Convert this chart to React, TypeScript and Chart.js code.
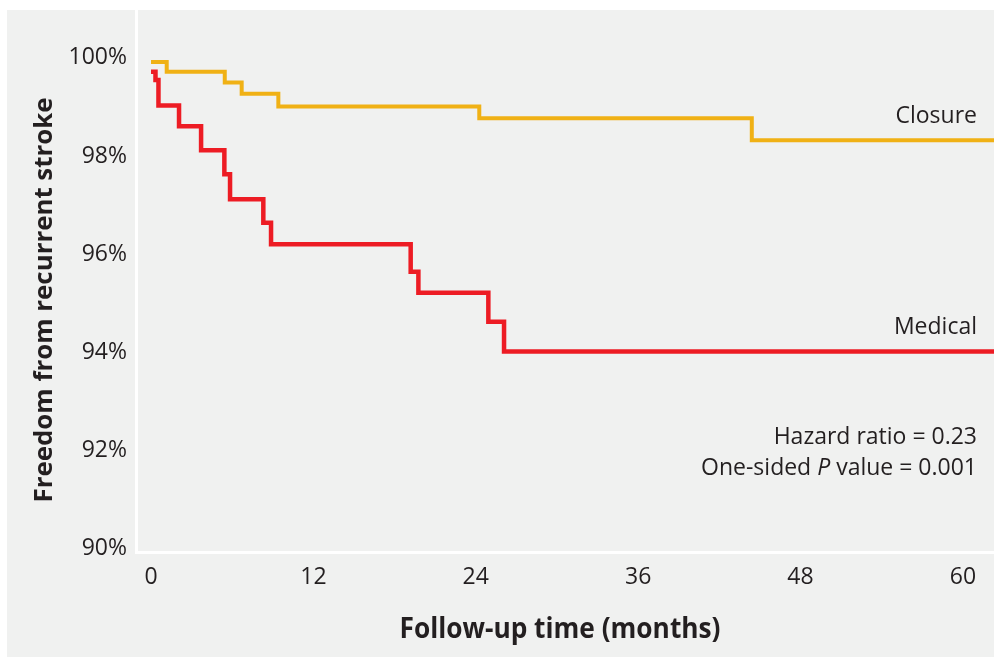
import React, { useEffect, useRef } from "react";
import { Chart, registerables } from "chart.js";
Chart.register(...registerables);

// ---- data ----
const closureTimes = [0, 1.16, 5.45, 6.7, 9.41, 24.26, 44.4, 62.3];
const closureSurvival = [100, 99.8, 99.58, 99.35, 99.09, 98.85, 98.4, 98.4];
const medicalTimes = [0, 0.33, 0.55, 2.07, 3.7, 5.42, 5.84, 8.3, 8.87, 19.19, 19.76, 24.93, 26.09, 62.3];
const medicalSurvival = [99.8, 99.63, 99.11, 98.69, 98.2, 97.71, 97.2, 96.72, 96.28, 95.72, 95.29, 94.7, 94.09, 94.09];
const xTickValues = [0, 12, 24, 36, 48, 60];
const yTickValues = [90, 92, 94, 96, 98, 100];
const seriesNames = ["Medical", "Closure"];
const xTitle = "Follow-up time (months)";
const yTitle = "Freedom from recurrent stroke";
const hazardText = "Hazard ratio = 0.23";
const pValueParts = ["One-sided ", "P", " value = 0.001"];
const statsAnchorValue = 92;

const FONT = "'Open Sans', 'Noto Sans', sans-serif";
const TEXT = "#231f20";
const RED = "#ED1C24";
const ORANGE = "#F0B115";
const BG = "#f0f1f0";
const FS = 23;

const toPoints = (xs: number[], ys: number[]) => xs.map((x, i) => ({ x, y: ys[i] }));

const overlay = {
  id: "overlay",
  afterDraw(chart: any) {
    const { ctx, chartArea, scales } = chart;
    const ys = scales.y;
    ctx.save();
    ctx.fillStyle = TEXT;
    ctx.textBaseline = "middle";

    // series labels
    ctx.font = `${FS}px ${FONT}`;
    ctx.textAlign = "right";
    const rx = chartArea.right - 17;
    ctx.fillText(seriesNames[1], rx, ys.getPixelForValue(closureSurvival[closureSurvival.length - 1]) - 24);
    ctx.fillText(seriesNames[0], rx, ys.getPixelForValue(medicalSurvival[medicalSurvival.length - 1]) - 24);

    // stats
    const base = ys.getPixelForValue(statsAnchorValue);
    ctx.fillText(hazardText, rx, base - 17);
    ctx.textAlign = "left";
    const normal = `${FS}px ${FONT}`;
    const italic = `italic ${FS}px ${FONT}`;
    ctx.font = normal;
    const w0 = ctx.measureText(pValueParts[0]).width;
    const w2 = ctx.measureText(pValueParts[2]).width;
    ctx.font = italic;
    const w1 = ctx.measureText(pValueParts[1]).width;
    let px = rx - (w0 + w1 + w2);
    const py = base + 14;
    ctx.font = normal;
    ctx.fillText(pValueParts[0], px, py);
    px += w0;
    ctx.font = italic;
    ctx.fillText(pValueParts[1], px, py);
    px += w1;
    ctx.font = normal;
    ctx.fillText(pValueParts[2], px, py);

    // axis titles
    ctx.textAlign = "center";
    ctx.font = `bold 28px ${FONT}`;
    const xw = ctx.measureText(xTitle).width;
    ctx.save();
    ctx.translate((chartArea.left + chartArea.right) / 2 - 5, chartArea.bottom + 78);
    ctx.scale(321 / xw, 1);
    ctx.fillText(xTitle, 0, 0);
    ctx.restore();

    ctx.font = `bold 25px ${FONT}`;
    const yw = ctx.measureText(yTitle).width;
    ctx.save();
    ctx.translate(38, (chartArea.top + chartArea.bottom) / 2 + 19);
    ctx.rotate(-Math.PI / 2);
    ctx.scale(405 / yw, 1);
    ctx.fillText(yTitle, 0, 0);
    ctx.restore();

    ctx.restore();
  },
};

export default function App() {
  const ref = useRef<HTMLCanvasElement>(null);
  useEffect(() => {
    if (!ref.current) return;
    const chart = new Chart(ref.current, {
      type: "line",
      data: {
        datasets: [
          {
            label: seriesNames[0],
            data: toPoints(medicalTimes, medicalSurvival),
            borderColor: RED,
            borderWidth: 4.5,
            stepped: "before",
            pointRadius: 0,
            fill: false,
            borderJoinStyle: "miter",
          },
          {
            label: seriesNames[1],
            data: toPoints(closureTimes, closureSurvival),
            borderColor: ORANGE,
            borderWidth: 4,
            stepped: "before",
            pointRadius: 0,
            fill: false,
            borderJoinStyle: "miter",
          },
        ],
      },
      options: {
        animation: false,
        responsive: false,
        layout: { padding: 0 },
        plugins: { legend: { display: false }, tooltip: { enabled: false } },
        scales: {
          x: {
            type: "linear",
            min: -1.11,
            max: 62.3,
            afterBuildTicks: (s: any) => {
              s.ticks = xTickValues.map((v) => ({ value: v }));
            },
            afterFit: (s: any) => {
              s.height = 105;
              s.paddingLeft = 0;
              s.paddingRight = 0;
              s.paddingTop = 0;
              s.paddingBottom = 0;
            },
            grid: { display: false, drawTicks: false },
            border: { display: true, color: "#ffffff", width: 3 },
            ticks: {
              padding: 12,
              color: TEXT,
              font: { family: FONT, size: FS },
              maxRotation: 0,
              autoSkip: false,
              callback: (v: any) => String(v),
            },
          },
          y: {
            type: "linear",
            min: 90,
            max: 101.06,
            afterBuildTicks: (s: any) => {
              s.ticks = yTickValues.map((v) => ({ value: v }));
            },
            afterFit: (s: any) => {
              s.width = 129;
              s.paddingLeft = 0;
              s.paddingRight = 0;
              s.paddingTop = 0;
              s.paddingBottom = 0;
            },
            grid: { display: false, drawTicks: false },
            border: { display: true, color: "#ffffff", width: 3 },
            ticks: {
              padding: 9,
              labelOffset: -4,
              color: TEXT,
              font: { family: FONT, size: FS },
              callback: (v: any) => `${v}%`,
            },
          },
        },
      },
      plugins: [overlay],
    } as any);
    return () => chart.destroy();
  }, []);
  return (
    <div
      style={{
        position: "absolute",
        left: 7,
        top: 10,
        width: 987,
        height: 647,
        background: BG,
      }}
    >
      <canvas ref={ref} width={987} height={647} style={{ display: "block" }} />
    </div>
  );
}
